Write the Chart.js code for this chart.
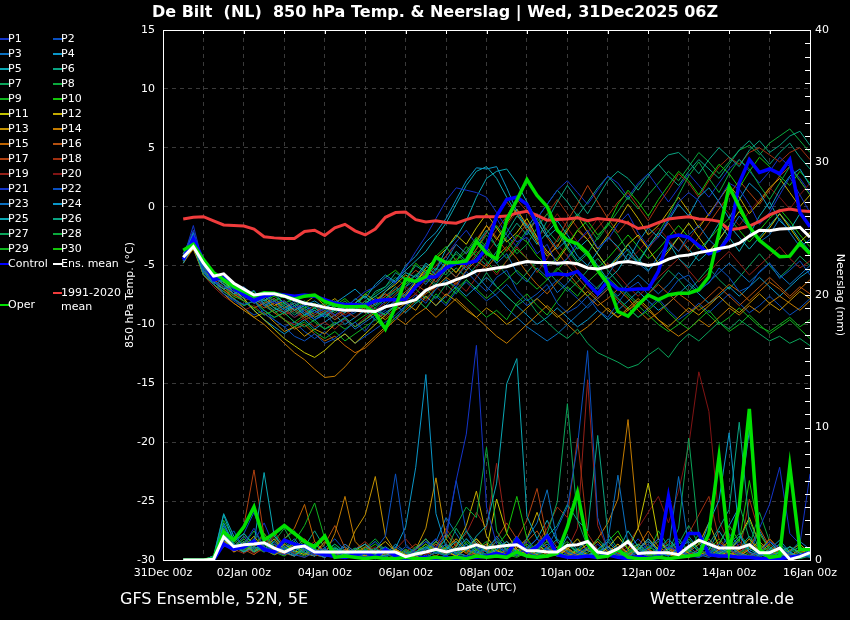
<!DOCTYPE html>
<html>
<head>
<meta charset="utf-8">
<script src="https://cdn.jsdelivr.net/npm/chart.js@4/dist/chart.umd.min.js"></script>
<style>
html,body{margin:0;padding:0;background:#000}
#wrap{position:relative;width:850px;height:620px;background:#000;overflow:hidden;font-family:"DejaVu Sans",sans-serif;color:#fff}
#c{position:absolute;left:0;top:0}
.txt{position:absolute;white-space:pre;line-height:14px}
.ln{position:absolute;height:2px}
</style>
</head>
<body>
<div id="wrap">
<canvas id="c" width="850" height="620"></canvas>
<div class="txt" style="left:0;width:870px;top:3px;text-align:center;font-weight:bold;font-size:16px;line-height:18px">De Bilt  (NL)  850 hPa Temp. &amp; Neerslag | Wed, 31Dec2025 06Z</div>
<div class="txt" style="left:120px;top:589px;font-size:16px;line-height:20px">GFS Ensemble, 52N, 5E</div>
<div class="txt" style="left:650px;top:589px;font-size:16px;line-height:20px">Wetterzentrale.de</div>
<div id="legend"></div>
</div>
<script>
// time axis: 31Dec 00z .. 16Jan 00z, 6-hourly; forecast values start at 31Dec 12z
const days=['31Dec','01Jan','02Jan','03Jan','04Jan','05Jan','06Jan','07Jan','08Jan','09Jan','10Jan','11Jan','12Jan','13Jan','14Jan','15Jan','16Jan']
const hours=['00z','06z','12z','18z']
const leadEmpty=2

// 850 hPa temperature (°C) per member
const p01T=[-4.2,-2.0,-5.2,-6.3,-6.8,-7.2,-7.0,-7.8,-7.5,-8.2,-8.0,-8.6,-8.3,-9.0,-8.7,-9.2,-8.5,-7.9,-7.2,-6.8,-6.0,-6.5,-5.2,-3.8,-2.5,-1.0,0.5,1.6,1.4,1.2,0.8,-0.5,-1.8,-3.0,-2.6,-4.0,-3.2,-5.0,-4.4,-3.0,-2.0,-3.5,-2.8,-1.5,-0.6,-2.2,-3.4,-2.6,-1.0,0.4,1.2,0.5,-0.8,0.6,2.0,1.5,0.2,-1.5,-0.5,1.0,2.5,1.0,-0.5]
const p02T=[-4.6,-3.0,-5.6,-6.2,-7.4,-7.9,-8.3,-8.0,-9.1,-9.6,-10.2,-11.0,-11.4,-10.8,-11.6,-11.2,-10.5,-9.8,-10.6,-9.4,-8.8,-9.6,-8.4,-7.5,-8.2,-7.0,-6.2,-6.8,-5.5,-6.4,-7.2,-6.0,-5.4,-7.1,-8.0,-7.4,-6.6,-8.2,-9.0,-8.5,-7.6,-8.8,-9.4,-8.2,-7.0,-6.4,-7.5,-8.1,-7.3,-6.2,-5.8,-7.0,-6.5,-5.2,-6.0,-7.2,-6.8,-5.5,-4.8,-6.1,-5.4,-4.6,-5.8]
const p03T=[-4.0,-2.6,-5.4,-6.6,-6.2,-7.0,-7.6,-7.1,-8.4,-8.0,-8.8,-8.2,-9.0,-9.6,-9.1,-10.0,-9.5,-10.4,-9.8,-9.2,-8.6,-8.0,-7.4,-6.2,-5.0,-5.8,-4.6,-3.2,-4.0,-2.8,-3.6,-4.8,-4.0,-5.6,-6.4,-5.2,-6.0,-7.3,-6.5,-5.4,-6.2,-7.0,-5.8,-4.5,-3.6,-4.8,-5.5,-4.2,-3.0,-3.8,-2.4,-1.6,-2.8,-3.6,-2.2,-0.8,-1.8,-3.0,-2.4,-1.0,-2.2,-3.4,-2.8]
const p04T=[-4.4,-2.2,-5.0,-5.8,-6.6,-7.4,-7.0,-7.6,-8.0,-7.4,-8.2,-8.8,-8.4,-8.0,-8.6,-8.2,-7.6,-7.0,-7.8,-6.6,-5.8,-6.4,-5.0,-4.2,-3.0,-2.2,-1.0,0.6,2.2,3.3,3.2,3.4,1.6,-0.4,-1.8,-0.6,-2.4,-3.6,-2.8,-4.2,-5.0,-3.8,-2.6,-3.4,-4.6,-3.0,-1.8,-2.6,-1.2,0.2,-0.8,0.8,1.6,0.4,-1.0,0.6,2.0,1.2,-0.2,1.4,2.6,3.2,1.8]
const p05T=[-4.8,-3.2,-5.6,-6.4,-7.0,-6.6,-7.5,-8.2,-7.8,-8.6,-9.0,-8.4,-9.2,-8.8,-9.4,-8.6,-9.0,-8.2,-7.6,-8.4,-7.2,-6.4,-5.6,-6.0,-4.8,-5.4,-3.6,-2.6,-1.2,0.8,2.4,3.0,3.2,2.0,0.4,-1.2,-2.6,-1.8,-3.4,-4.6,-3.8,-5.0,-6.2,-5.4,-4.0,-4.8,-3.4,-2.2,-3.0,-4.4,-5.2,-4.0,-2.8,-1.4,-2.6,-3.8,-2.4,-0.8,0.4,-1.2,-2.0,-0.6,-1.6]
const p06T=[-4.2,-2.4,-5.2,-6.0,-6.4,-7.2,-7.8,-7.4,-8.2,-8.8,-8.4,-9.2,-8.6,-9.4,-9.0,-8.4,-8.8,-7.8,-8.4,-7.2,-6.8,-5.6,-6.2,-5.0,-5.6,-4.4,-5.2,-3.8,-4.6,-3.2,-2.0,-3.4,-2.2,-0.8,-1.6,-2.8,-1.2,0.4,1.8,0.6,-0.6,0.8,2.2,3.0,2.4,1.4,2.6,3.6,4.4,4.6,3.8,2.8,4.0,5.0,4.2,3.4,4.8,5.6,4.6,5.2,6.0,6.4,5.2]
const p07T=[-4.6,-3.4,-5.8,-6.6,-7.2,-7.8,-8.4,-8.0,-8.8,-9.4,-9.0,-9.8,-10.2,-9.6,-10.4,-10.0,-9.4,-10.2,-9.6,-8.8,-9.2,-8.4,-7.6,-8.2,-7.0,-7.8,-6.6,-7.4,-6.2,-7.0,-5.6,-6.8,-7.6,-8.4,-7.8,-9.0,-9.8,-10.6,-11.2,-10.4,-11.6,-12.4,-12.8,-13.2,-13.7,-13.4,-12.6,-12.0,-12.8,-11.6,-10.8,-11.4,-10.6,-9.8,-10.4,-9.6,-10.2,-10.8,-11.4,-11.0,-11.6,-11.2,-11.8]
const p08T=[-4.0,-2.8,-5.0,-6.2,-6.0,-6.8,-7.2,-7.8,-7.4,-8.0,-7.6,-8.4,-8.0,-8.6,-8.2,-9.0,-8.4,-8.8,-8.0,-8.6,-7.8,-7.2,-6.6,-5.8,-6.4,-5.2,-5.8,-4.6,-3.4,-4.2,-3.0,-1.6,-2.8,-4.0,-3.2,-1.8,-0.6,-2.0,-3.6,-4.8,-4.0,-2.6,-1.4,-2.4,-3.8,-4.6,-3.4,-2.2,-0.8,1.0,2.6,3.8,2.4,1.2,2.8,4.0,3.2,1.8,0.6,2.0,3.4,2.2,1.0]
const p09T=[-4.4,-3.0,-5.4,-6.4,-6.8,-7.6,-8.0,-8.6,-9.2,-8.8,-9.6,-10.2,-9.8,-10.6,-11.2,-10.6,-11.4,-10.8,-10.2,-9.6,-10.4,-9.4,-8.6,-7.8,-8.6,-7.4,-8.2,-7.0,-7.8,-8.6,-9.4,-8.8,-9.6,-8.2,-7.4,-8.4,-9.2,-8.0,-6.8,-7.6,-6.4,-5.6,-6.8,-7.8,-8.6,-9.4,-8.8,-8.0,-9.0,-9.8,-10.4,-9.6,-8.8,-9.8,-10.6,-10.0,-9.2,-10.0,-10.8,-10.2,-9.6,-10.4,-11.2]
const p10T=[-4.2,-2.6,-5.2,-5.8,-6.6,-7.0,-7.6,-7.2,-8.0,-7.6,-8.2,-7.8,-8.6,-8.2,-8.8,-8.4,-7.8,-8.6,-7.4,-6.8,-6.0,-5.4,-6.2,-4.8,-5.6,-4.2,-3.4,-4.6,-3.8,-2.6,-3.4,-4.6,-3.6,-2.4,-3.0,-4.2,-5.0,-4.4,-3.2,-2.0,-1.2,-2.4,-1.6,0.2,1.4,0.4,-0.8,0.6,1.8,3.0,2.2,1.0,2.4,3.6,2.8,1.6,3.0,4.2,3.4,2.6,1.8,3.0,2.0]
const p11T=[-4.6,-3.6,-5.6,-6.0,-6.4,-7.0,-7.8,-8.8,-9.6,-10.4,-11.2,-11.8,-12.4,-12.8,-12.2,-11.4,-10.8,-11.6,-10.8,-10.0,-9.2,-8.4,-7.6,-6.4,-5.2,-4.4,-3.6,-2.4,-3.2,-1.8,-0.6,-1.8,-3.0,-2.2,-1.0,-2.6,-3.8,-4.6,-3.4,-2.0,-2.8,-4.0,-5.2,-4.4,-3.2,-2.4,-3.6,-4.8,-3.8,-2.6,-1.4,-2.6,-3.8,-2.8,-1.6,-0.4,-1.6,-2.8,-1.8,-0.6,-1.8,-3.0,-2.2]
const p12T=[-4.0,-2.4,-4.8,-6.0,-6.4,-7.0,-7.4,-8.0,-7.6,-8.4,-8.0,-8.8,-8.2,-7.6,-8.4,-7.8,-8.6,-8.2,-7.4,-8.0,-7.2,-6.6,-5.8,-6.4,-5.4,-6.0,-4.8,-5.6,-4.4,-3.0,-1.6,-2.8,-1.4,-0.2,-1.6,-3.0,-4.2,-3.4,-2.0,-0.8,-2.2,-3.6,-2.4,-1.2,0.2,-1.0,-2.4,-1.6,-0.4,0.8,-0.4,-1.8,-0.6,0.6,1.8,0.8,-0.6,0.4,1.6,2.4,1.2,0.0,1.0]
const p13T=[-4.8,-3.4,-5.8,-6.6,-7.4,-8.2,-8.8,-9.4,-9.0,-9.8,-10.6,-10.2,-11.0,-10.4,-10.8,-10.0,-9.4,-10.2,-9.6,-9.0,-9.6,-8.8,-8.2,-8.8,-7.6,-8.4,-7.4,-8.0,-8.8,-9.4,-8.6,-9.2,-10.0,-9.4,-8.6,-7.8,-8.6,-9.4,-8.8,-8.0,-7.2,-8.0,-8.8,-9.4,-8.6,-7.8,-8.6,-9.6,-10.2,-9.4,-8.6,-9.2,-8.4,-7.6,-8.4,-9.0,-8.2,-7.4,-8.2,-8.8,-8.0,-7.2,-7.8]
const p14T=[-4.4,-3.0,-5.4,-6.4,-7.0,-7.8,-8.6,-9.4,-10.0,-10.8,-11.6,-12.4,-13.0,-13.8,-14.5,-14.4,-13.6,-12.6,-11.8,-11.0,-10.2,-9.4,-10.0,-9.2,-8.6,-9.4,-8.6,-7.8,-8.6,-9.4,-10.2,-11.0,-11.6,-10.8,-10.0,-9.2,-8.4,-9.2,-10.0,-10.8,-10.2,-9.4,-8.6,-9.4,-8.8,-8.0,-8.8,-9.6,-10.4,-11.0,-10.4,-9.6,-10.2,-9.4,-8.6,-9.2,-8.4,-9.0,-8.2,-7.6,-8.2,-8.8,-8.0]
const p15T=[-4.2,-2.8,-5.0,-6.2,-6.8,-7.4,-8.0,-8.6,-8.2,-9.0,-9.6,-10.4,-10.0,-10.8,-11.4,-11.0,-11.8,-12.4,-12.0,-11.2,-10.4,-9.6,-8.8,-8.0,-7.4,-6.8,-6.0,-6.6,-5.4,-4.6,-5.2,-4.2,-3.4,-4.4,-5.6,-6.6,-7.4,-6.4,-5.6,-6.6,-7.6,-8.4,-7.8,-7.0,-7.8,-8.8,-9.6,-9.0,-8.2,-7.4,-8.0,-8.8,-8.2,-7.4,-6.6,-7.2,-8.0,-7.2,-6.4,-7.0,-7.8,-7.0,-6.2]
const p16T=[-4.6,-3.2,-5.6,-6.2,-7.0,-7.6,-7.2,-8.0,-8.6,-8.2,-9.0,-8.6,-9.4,-9.0,-8.4,-9.2,-8.8,-8.2,-8.8,-8.0,-7.4,-8.0,-7.2,-6.6,-7.2,-6.0,-5.2,-6.0,-4.8,-3.6,-2.2,-0.8,0.4,-0.6,-2.0,-1.2,-2.6,-3.8,-5.0,-6.0,-7.0,-7.8,-7.0,-8.0,-8.8,-8.2,-7.4,-6.6,-7.4,-8.2,-9.0,-8.4,-7.6,-6.8,-7.6,-8.4,-7.6,-6.8,-6.0,-6.8,-7.6,-6.8,-7.4]
const p17T=[-4.0,-2.6,-5.2,-6.0,-6.6,-7.2,-7.8,-7.4,-8.2,-7.8,-8.6,-8.2,-8.8,-9.4,-8.8,-9.6,-9.0,-8.4,-9.0,-8.2,-7.6,-7.0,-6.2,-5.4,-6.0,-5.0,-4.2,-3.2,-4.0,-2.8,-1.6,-2.6,-3.8,-2.6,-1.4,-2.8,-4.0,-2.8,-1.2,0.2,1.8,0.4,-1.0,-2.2,-1.2,-2.6,-3.6,-2.4,-1.4,-2.6,-3.8,-2.6,-1.4,-0.2,1.0,2.2,1.2,0.2,1.4,2.6,3.4,2.2,1.0]
const p18T=[-4.4,-3.0,-5.4,-6.6,-7.2,-7.8,-7.4,-8.2,-7.8,-8.6,-9.2,-8.8,-9.6,-9.2,-8.6,-9.4,-8.8,-9.4,-8.6,-8.0,-7.4,-8.2,-7.4,-6.8,-5.6,-6.4,-5.2,-4.4,-5.2,-4.0,-3.2,-2.0,-0.8,0.6,-0.4,-1.6,-0.6,0.6,-0.6,-1.8,-2.8,-1.8,-0.8,0.4,1.2,0.0,-1.2,0.2,1.4,2.8,2.0,0.8,2.2,3.4,4.2,3.6,4.6,5.0,4.4,3.8,4.6,5.0,4.0]
const p19T=[-4.8,-3.6,-5.8,-6.8,-7.6,-8.2,-8.8,-8.4,-9.2,-8.8,-9.6,-10.0,-9.4,-10.2,-9.8,-10.4,-9.6,-10.2,-9.4,-8.8,-9.4,-8.6,-8.0,-7.4,-8.0,-6.8,-7.6,-6.4,-7.2,-6.0,-4.8,-5.8,-4.6,-3.4,-4.4,-5.6,-4.4,-3.2,-4.2,-5.4,-6.4,-5.6,-4.8,-5.8,-6.8,-7.6,-6.8,-6.0,-5.2,-4.4,-5.4,-6.4,-5.6,-4.6,-3.8,-4.8,-5.8,-5.0,-4.2,-3.4,-4.4,-5.2,-4.6]
const p20T=[-4.2,-2.8,-5.2,-6.2,-6.8,-7.4,-8.0,-7.6,-8.4,-8.0,-8.8,-9.4,-9.0,-8.4,-9.2,-8.6,-9.2,-8.6,-8.0,-8.8,-8.2,-7.4,-6.8,-7.4,-6.2,-5.6,-4.8,-5.6,-4.4,-5.2,-4.0,-2.8,-1.6,-0.4,-1.4,-2.6,-1.8,-0.6,-1.8,-3.0,-2.2,-1.0,-2.4,-3.6,-4.6,-3.8,-2.8,-1.8,-2.8,-3.8,-2.8,-1.6,-0.6,0.4,-0.6,-1.6,-0.4,0.6,1.6,0.8,-0.2,1.0,2.0]
const p21T=[-4.4,-1.6,-5.0,-6.2,-6.8,-7.4,-7.0,-7.8,-8.4,-8.0,-8.8,-9.4,-8.8,-9.6,-9.2,-8.6,-9.4,-8.8,-8.2,-8.8,-8.0,-7.2,-6.4,-5.8,-6.6,-5.4,-4.2,-3.0,-2.0,-3.2,-2.2,-1.0,-2.4,-3.4,-2.2,-1.0,0.2,1.4,2.2,1.2,0.2,1.4,2.6,2.0,0.8,2.0,2.8,1.6,0.4,1.6,2.8,1.8,0.8,2.0,3.2,4.0,3.0,2.0,3.0,4.2,3.4,2.4,1.2]
const p22T=[-4.6,-3.2,-5.6,-6.6,-7.4,-8.0,-8.6,-9.2,-8.8,-9.6,-10.2,-9.8,-10.6,-11.2,-10.6,-11.4,-10.8,-11.6,-11.0,-10.4,-9.8,-9.2,-8.4,-7.8,-8.6,-7.6,-8.4,-7.2,-6.4,-7.2,-8.0,-7.4,-6.6,-7.6,-8.4,-7.8,-7.0,-6.2,-7.0,-7.8,-8.6,-7.8,-7.0,-7.8,-8.6,-9.4,-8.6,-7.8,-8.8,-9.6,-9.0,-8.2,-9.0,-8.2,-7.4,-8.2,-9.0,-8.4,-7.6,-8.4,-9.2,-8.6,-7.8]
const p23T=[-4.2,-2.4,-5.4,-6.0,-6.6,-7.2,-6.8,-7.6,-8.2,-7.8,-8.6,-8.0,-8.8,-8.4,-9.0,-8.6,-9.4,-9.0,-8.4,-7.8,-8.4,-7.6,-6.8,-6.2,-5.6,-6.4,-5.2,-6.0,-5.0,-5.8,-6.8,-7.6,-8.6,-9.4,-10.2,-10.8,-11.4,-10.8,-10.0,-9.2,-8.4,-7.6,-6.8,-7.6,-6.6,-5.8,-6.6,-7.4,-6.6,-5.6,-6.4,-7.2,-6.4,-5.6,-4.8,-5.6,-6.4,-5.6,-4.8,-5.8,-6.6,-5.8,-5.0]
const p24T=[-4.0,-2.6,-5.0,-5.8,-6.6,-7.2,-8.0,-8.8,-9.6,-10.2,-10.8,-10.2,-9.6,-10.4,-9.8,-9.2,-10.0,-9.4,-8.8,-9.6,-9.0,-8.4,-9.0,-8.2,-7.6,-8.4,-7.6,-6.8,-7.6,-6.8,-6.0,-6.8,-7.6,-8.4,-9.2,-10.0,-9.4,-8.6,-9.4,-10.2,-9.6,-8.8,-9.6,-8.8,-8.0,-7.2,-8.0,-8.8,-8.2,-7.4,-6.6,-7.4,-8.2,-7.6,-6.8,-7.6,-6.8,-6.0,-6.8,-7.6,-6.8,-6.0,-5.4]
const p25T=[-4.6,-2.8,-5.6,-6.4,-7.0,-6.4,-7.2,-7.8,-8.4,-8.0,-8.8,-8.4,-9.2,-8.6,-9.2,-8.8,-8.2,-8.8,-8.2,-7.6,-7.0,-6.2,-5.4,-4.6,-3.8,-2.6,-1.4,0.2,1.8,3.0,3.4,2.4,0.8,-0.6,-2.0,-3.2,-2.2,-1.2,-2.4,-3.6,-2.8,-4.0,-5.2,-4.2,-3.2,-4.4,-5.4,-4.6,-3.6,-2.6,-3.6,-4.6,-3.8,-2.8,-1.6,-2.6,-3.6,-2.6,-1.6,-0.6,-1.6,-2.8,-3.8]
const p26T=[-4.2,-2.6,-5.2,-6.2,-6.8,-7.4,-8.0,-7.6,-8.4,-9.0,-8.6,-9.4,-8.8,-9.6,-9.0,-9.6,-9.0,-8.4,-9.0,-8.2,-7.6,-6.8,-7.6,-6.4,-5.8,-6.6,-5.4,-4.6,-5.4,-4.2,-5.0,-3.8,-2.6,-1.4,-2.4,-1.0,0.2,1.4,0.4,-0.8,0.4,1.6,2.6,1.6,0.6,1.8,2.8,3.6,2.6,1.8,3.0,4.0,3.2,2.4,3.6,4.8,5.6,4.6,3.6,4.6,5.4,4.2,3.2]
const p27T=[-4.4,-3.0,-5.4,-6.0,-6.6,-7.4,-7.0,-7.8,-8.4,-7.8,-8.4,-9.0,-8.4,-9.2,-8.6,-8.0,-8.8,-8.2,-7.6,-8.4,-7.8,-7.0,-7.8,-6.8,-6.0,-6.8,-6.0,-5.2,-6.0,-5.0,-4.0,-4.8,-5.8,-6.6,-5.6,-4.6,-5.4,-6.4,-7.2,-6.4,-5.4,-4.4,-5.4,-6.4,-7.4,-8.2,-7.4,-6.4,-5.4,-6.2,-7.2,-6.2,-5.2,-6.2,-7.0,-6.0,-5.0,-4.0,-5.0,-6.0,-5.2,-4.2,-5.0]
const p28T=[-4.0,-2.2,-5.0,-5.8,-6.4,-7.0,-7.6,-7.2,-8.0,-8.6,-8.2,-8.8,-9.4,-8.8,-9.4,-8.8,-8.2,-8.8,-8.0,-7.4,-6.8,-6.0,-6.8,-5.8,-5.0,-5.8,-4.8,-4.0,-4.8,-3.6,-2.4,-3.4,-4.4,-3.2,-2.0,-1.0,-2.0,-3.0,-1.8,-0.6,-1.6,-2.8,-1.6,-0.4,0.8,-0.2,1.0,2.0,3.0,2.2,3.4,4.6,3.8,2.8,3.8,4.8,5.2,4.4,5.4,6.0,6.6,5.6,4.6]
const p29T=[-4.6,-3.4,-5.8,-6.6,-7.2,-7.8,-8.4,-8.0,-8.8,-9.4,-9.0,-9.8,-9.2,-9.8,-10.4,-9.8,-10.4,-9.8,-9.2,-8.6,-9.2,-8.4,-7.8,-7.0,-7.8,-7.0,-6.2,-7.0,-6.2,-7.0,-7.8,-7.0,-6.2,-5.4,-6.2,-7.0,-6.2,-5.2,-6.0,-6.8,-7.6,-6.8,-6.0,-6.8,-7.6,-8.4,-9.2,-10.0,-10.6,-10.0,-9.2,-8.4,-9.2,-10.0,-9.4,-8.6,-9.4,-10.2,-10.6,-10.0,-9.4,-10.2,-9.6]
const p30T=[-4.2,-2.8,-5.2,-6.2,-6.8,-7.4,-7.0,-7.8,-8.4,-8.0,-8.6,-8.2,-9.0,-8.6,-9.2,-8.6,-8.0,-8.8,-8.2,-7.6,-8.2,-7.4,-6.6,-5.8,-6.6,-5.6,-4.8,-5.6,-4.6,-3.8,-4.6,-5.6,-4.6,-3.6,-4.4,-5.4,-6.2,-5.4,-4.4,-3.4,-4.2,-5.2,-4.4,-3.4,-2.4,-3.4,-4.4,-3.6,-2.6,-1.6,-2.6,-3.6,-2.8,-1.8,-1.0,-2.0,-3.0,-2.0,-1.0,-0.2,-1.2,-2.4,-3.4]

const controlT=[-4.5,-2.7,-4.6,-6.2,-6.0,-6.9,-7.5,-8.0,-7.6,-7.4,-7.5,-7.6,-7.5,-7.6,-7.9,-8.2,-8.3,-8.3,-8.4,-8.0,-7.9,-7.9,-7.85,-6.8,-6.0,-5.95,-5.2,-4.8,-4.8,-4.6,-3.5,-0.8,0.6,0.8,0.2,-1.5,-5.8,-5.7,-5.8,-5.5,-6.5,-7.4,-6.3,-7.0,-7.05,-7.0,-7.0,-5.5,-2.6,-2.4,-2.6,-3.3,-4.0,-3.7,-2.6,2.0,4.0,2.9,3.2,2.8,4.0,-0.5,-1.7]
const operT=[-3.7,-3.2,-4.5,-5.6,-6.2,-6.8,-7.2,-7.6,-7.3,-7.35,-7.6,-7.85,-7.6,-7.5,-8.05,-8.35,-8.5,-8.5,-8.45,-9.05,-10.4,-8.5,-6.15,-6.35,-5.95,-4.3,-4.75,-4.75,-4.6,-2.95,-3.95,-4.45,-1.1,0.55,2.3,0.95,0.0,-2.0,-2.85,-3.15,-3.95,-5.4,-6.5,-8.9,-9.3,-8.35,-7.5,-7.9,-7.5,-7.35,-7.35,-7.05,-5.95,-2.25,1.7,0.0,-1.7,-2.85,-3.55,-4.25,-4.2,-3.1,-4.0]
const meanT=[-4.3,-3.4,-4.8,-5.9,-5.7,-6.5,-7.0,-7.5,-7.4,-7.4,-7.6,-7.9,-8.2,-8.35,-8.55,-8.7,-8.8,-8.8,-8.85,-8.9,-8.5,-8.3,-8.15,-7.9,-7.1,-6.7,-6.55,-6.2,-5.9,-5.45,-5.35,-5.2,-5.1,-4.85,-4.65,-4.75,-4.75,-4.8,-4.75,-4.85,-5.2,-5.3,-5.1,-4.75,-4.65,-4.8,-5.0,-4.85,-4.45,-4.2,-4.1,-3.9,-3.75,-3.55,-3.4,-3.1,-2.5,-2.0,-2.05,-1.9,-1.85,-1.75,-2.6]
const climT=[-1.05,-0.9,-0.85,-1.2,-1.55,-1.6,-1.65,-1.9,-2.55,-2.65,-2.7,-2.7,-2.1,-2.0,-2.45,-1.8,-1.5,-2.05,-2.4,-1.9,-0.9,-0.5,-0.45,-1.1,-1.3,-1.2,-1.35,-1.4,-1.1,-0.85,-0.85,-0.85,-0.8,-0.55,-0.4,-0.75,-1.15,-1.1,-1.05,-0.95,-1.2,-1.0,-1.1,-1.15,-1.4,-1.85,-1.7,-1.35,-1.05,-0.95,-0.85,-1.05,-1.1,-1.25,-1.95,-1.85,-1.65,-1.25,-0.7,-0.35,-0.2,-0.35,-0.4]

// 6-hourly precipitation (mm) per member
const p01R=[0,0,0,0.2,1.8,0.9,1.2,2.4,1.0,0.6,0.4,0.8,1.2,0.5,0.3,0.2,0.6,0.4,0.2,0.1,0.3,0.5,0.2,0.8,1.4,0.9,2.0,6.0,9.5,16.2,4.0,1.2,0.6,0.4,0.9,1.6,0.8,0.3,0.2,0.5,1.0,0.6,0.3,0.8,1.4,0.6,0.2,0.4,1.0,0.7,0.3,0.2,0.6,1.2,0.8,0.4,0.2,0.6,1.4,0.9,0.4,0.2,0.5]
const p02R=[0,0,0,0.1,1.4,2.2,0.8,1.6,0.6,1.2,0.8,0.4,0.2,0.6,0.9,0.3,0.1,0.4,0.2,0.8,1.8,6.5,1.2,0.4,0.2,0.6,0.3,0.8,1.6,0.9,0.4,0.2,0.7,1.4,0.6,0.3,0.9,2.4,4.0,8.6,15.8,3.2,0.8,0.4,0.2,0.6,1.2,0.5,0.3,0.8,0.4,0.2,0.5,0.9,0.4,0.2,0.1,0.3,0.6,0.2,0.1,0.4,0.2]
const p03R=[0,0,0,0.3,2.0,1.0,1.8,0.8,1.4,0.5,0.9,1.6,0.6,0.3,0.8,0.4,1.2,0.6,0.2,0.4,0.8,0.3,0.1,0.4,0.9,0.5,1.2,0.6,0.3,1.0,0.6,1.8,0.8,0.4,1.6,2.8,5.3,1.4,0.6,0.3,0.8,0.4,1.4,6.4,1.2,0.5,0.9,1.6,0.8,6.3,1.0,0.4,0.2,0.6,1.2,0.5,0.3,0.8,0.4,0.2,0.6,1.4,0.8]
const p04R=[0,0,0,0.2,2.6,1.2,0.6,1.0,0.8,1.4,0.6,0.3,0.9,0.5,0.2,0.6,0.3,0.8,1.2,0.5,0.3,0.9,2.5,7.0,14.0,3.5,1.0,0.5,1.2,0.6,0.3,0.8,1.4,0.6,0.2,0.5,0.9,0.4,1.8,0.7,0.3,0.6,1.0,0.4,0.2,0.8,1.6,0.6,0.3,0.9,1.4,0.6,2.8,4.5,9.6,2.0,0.6,0.3,0.8,1.5,0.6,0.2,0.4]
const p05R=[0,0,0,0.2,3.4,1.4,2.0,1.2,6.6,1.8,1.0,0.6,1.2,0.8,0.4,0.9,0.5,0.2,0.6,0.3,0.8,0.4,0.2,0.6,1.0,0.5,0.8,1.4,0.7,1.8,2.6,5.8,13.3,15.2,3.3,1.6,0.8,0.4,1.2,0.6,0.3,0.8,1.4,0.6,2.2,1.0,0.4,0.8,1.6,0.7,0.3,0.6,1.2,0.5,0.9,1.8,0.8,0.4,0.2,0.6,1.0,0.5,0.3]
const p06R=[0,0,0,0.1,1.6,0.8,1.4,0.6,1.0,2.0,0.8,0.4,0.7,1.2,0.5,0.2,0.6,0.3,0.1,0.4,0.2,0.6,0.3,0.9,1.6,0.7,0.4,1.0,2.2,1.2,0.6,1.4,0.8,0.4,1.0,0.6,1.8,2.6,4.2,3.0,2.2,9.4,2.0,0.8,0.4,1.2,0.6,0.3,0.8,1.6,0.7,0.4,1.2,2.4,3.8,10.4,2.6,0.8,0.4,1.0,0.5,0.3,0.8]
const p07R=[0,0,0,0.2,2.2,1.0,0.6,1.4,0.9,0.4,1.6,2.2,0.8,0.5,0.3,0.8,0.4,0.2,0.5,0.9,0.4,0.2,0.6,0.3,0.8,1.4,0.6,2.4,1.2,0.5,0.9,1.6,0.7,0.3,0.6,1.2,2.0,4.4,11.8,3.0,1.0,0.5,0.3,0.8,1.4,0.6,0.3,0.2,0.6,2.4,9.2,1.8,0.6,0.3,0.8,0.4,0.2,0.5,1.0,0.4,0.2,0.1,0.3]
const p08R=[0,0,0,0.3,1.8,1.2,2.0,1.0,0.6,1.4,2.4,1.0,0.5,0.9,0.4,1.2,0.6,0.3,0.8,0.4,0.2,0.6,0.3,0.5,1.0,0.6,1.6,2.6,4.0,3.2,8.5,2.2,1.0,0.6,0.3,0.8,1.4,0.6,0.3,0.9,0.5,1.6,0.8,0.3,0.6,1.2,0.5,0.3,0.8,1.4,0.6,2.0,1.0,0.4,0.8,1.6,3.0,1.2,0.5,0.3,0.8,0.4,0.2]
const p09R=[0,0,0,0.2,3.0,1.6,0.8,1.2,2.0,1.0,0.6,1.4,2.6,4.3,1.6,0.7,0.4,0.9,0.5,0.2,0.6,0.3,0.8,0.4,0.2,0.6,1.0,0.5,0.3,0.8,1.4,0.6,0.3,0.7,1.2,0.5,0.2,0.6,0.3,0.1,0.4,0.8,0.4,0.2,0.5,0.9,0.4,0.2,0.6,0.3,0.8,1.4,0.6,0.3,0.2,0.5,1.0,0.4,0.2,0.6,0.3,0.1,0.4]
const p10R=[0,0,0,0.1,2.4,1.0,1.6,0.8,1.2,0.6,0.9,0.4,1.0,0.6,0.3,0.8,0.4,0.2,0.6,0.3,0.9,0.5,0.2,0.6,1.2,0.6,0.3,0.8,1.6,0.8,0.4,1.0,2.0,4.8,1.6,0.6,0.3,0.8,1.2,0.5,0.3,0.6,1.4,2.2,0.8,0.4,1.0,0.6,0.3,0.8,1.6,0.7,0.4,1.2,2.6,1.4,6.0,2.0,0.8,0.4,1.0,0.6,0.3]
const p11R=[0,0,0,0.2,1.2,0.8,1.4,0.6,1.0,0.5,1.2,0.7,0.4,0.9,1.6,0.6,0.3,0.7,1.2,0.5,0.3,0.8,0.4,0.2,0.6,1.4,0.7,0.3,0.8,1.6,0.8,4.6,2.0,0.8,0.4,1.2,0.6,0.3,0.8,1.6,0.7,0.4,0.9,1.8,0.8,2.4,5.8,1.6,0.6,0.3,0.8,1.4,0.6,0.3,0.7,1.6,3.2,1.2,0.5,0.9,0.4,0.2,0.6]
const p12R=[0,0,0,0.1,1.6,0.6,1.0,1.8,0.8,0.4,0.7,1.2,0.5,0.3,0.8,0.5,0.2,0.6,0.3,0.8,1.4,0.6,0.3,0.8,1.6,0.7,0.4,1.0,2.6,5.2,1.8,0.7,0.4,0.9,1.6,3.6,1.4,0.6,0.3,0.8,0.4,0.2,0.6,1.2,0.5,0.8,1.6,0.8,0.4,0.2,0.6,1.2,2.8,1.0,0.5,0.3,0.8,1.4,0.6,0.3,0.7,1.2,0.5]
const p13R=[0,0,0,0.2,2.0,1.0,0.6,1.2,0.8,1.6,0.6,0.3,0.9,0.5,1.4,0.7,0.3,2.2,3.4,6.3,1.8,0.6,0.3,0.8,2.4,6.2,1.6,0.6,0.3,0.8,1.2,0.5,0.2,0.6,1.0,0.4,0.2,0.5,0.9,0.4,0.8,1.4,0.6,0.3,0.7,1.2,0.5,0.3,0.8,0.4,0.2,0.6,1.2,0.5,0.3,0.8,1.6,0.7,0.3,0.6,0.3,0.8,0.4]
const p14R=[0,0,0,0.1,1.4,0.8,1.2,0.6,1.4,0.7,0.4,0.9,1.6,0.8,0.4,2.0,4.8,1.4,0.6,0.3,0.8,0.4,0.2,0.6,1.2,0.5,0.9,1.6,0.8,0.4,0.2,0.6,1.4,0.7,0.3,0.8,0.4,1.0,0.5,0.3,0.8,1.6,2.8,4.6,10.6,2.4,0.8,0.4,0.9,0.5,0.2,0.6,0.3,0.8,1.4,0.6,0.3,0.7,1.6,0.8,0.4,0.2,0.6]
const p15R=[0,0,0,0.3,1.8,1.2,0.6,1.0,2.0,0.9,1.6,2.4,4.2,1.4,0.6,0.3,0.8,0.4,1.0,0.5,0.3,0.8,0.4,0.6,1.2,0.6,2.0,1.0,0.5,1.4,0.7,0.3,0.8,1.6,0.7,0.4,0.9,0.5,0.2,0.6,1.2,0.6,0.3,0.8,0.4,1.0,2.2,1.0,0.5,0.3,0.7,1.4,0.6,0.3,0.8,0.4,0.2,0.6,1.2,0.5,0.3,0.8,0.4]
const p16R=[0,0,0,0.2,1.0,1.6,0.8,0.4,1.0,1.8,0.8,0.4,0.9,0.5,1.2,2.6,0.9,0.4,0.2,0.6,0.3,0.8,0.4,0.2,0.6,1.2,0.6,0.3,0.8,1.6,0.8,0.4,0.2,0.6,1.4,2.2,0.9,0.4,0.8,0.4,0.2,0.6,1.0,0.5,0.3,0.8,1.6,0.8,0.4,1.0,0.5,0.2,0.6,1.4,0.7,0.4,0.9,2.4,1.0,0.5,0.3,0.7,0.4]
const p17R=[0,0,0,0.2,2.2,1.4,2.6,6.8,1.8,0.8,0.4,1.0,0.6,0.3,0.8,0.4,1.2,0.6,0.3,0.7,0.4,0.2,0.6,1.2,0.6,0.3,0.8,1.4,0.7,0.4,0.9,1.6,2.8,1.6,3.0,5.4,1.6,0.6,0.3,0.8,0.4,0.2,0.6,1.2,0.5,0.3,0.8,0.4,1.0,0.6,0.3,0.8,1.6,0.7,0.3,0.6,1.2,0.5,0.3,0.8,0.4,0.2,0.5]
const p18R=[0,0,0,0.1,1.6,1.0,1.8,0.8,1.2,2.2,1.0,0.5,0.9,0.4,0.2,0.6,0.3,0.8,1.4,0.6,0.3,0.7,0.4,0.2,0.6,1.0,2.4,1.2,0.5,0.3,0.8,1.4,0.7,0.3,0.6,1.2,2.4,4.0,3.2,9.2,2.0,0.8,0.4,1.0,0.5,0.3,0.8,1.6,0.8,0.4,2.0,3.4,4.8,1.6,0.7,0.4,4.6,2.0,0.8,0.4,1.0,0.5,0.3]
const p19R=[0,0,0,0.2,1.4,0.8,0.5,1.0,0.6,1.2,0.5,0.3,0.8,1.4,0.6,0.3,0.7,0.4,0.2,0.6,0.3,0.8,1.6,0.7,0.4,0.9,0.5,1.2,2.0,3.6,2.4,7.3,2.0,0.8,0.4,1.0,0.6,0.3,0.8,2.4,13.6,2.6,0.8,0.4,1.0,0.6,0.3,0.8,1.4,0.7,0.4,0.8,0.4,0.2,0.6,1.2,0.5,0.3,0.8,0.4,0.2,0.6,0.3]
const p20R=[0,0,0,0.1,1.2,0.6,1.0,0.5,0.8,0.4,0.9,0.5,0.2,0.6,0.3,0.8,0.4,0.2,0.6,1.0,0.5,0.3,0.8,0.4,0.2,0.6,1.2,0.6,0.3,0.8,0.4,0.2,0.6,1.0,0.5,0.3,0.7,1.4,0.6,0.3,0.8,0.4,0.2,0.6,1.2,2.4,3.6,4.8,2.8,5.2,8.6,14.2,11.2,3.0,1.2,0.6,0.3,0.8,1.6,0.7,0.4,0.2,0.6]
const p21R=[0,0,0,0.2,1.8,1.2,0.8,1.4,2.8,1.0,0.6,1.2,0.5,0.8,0.4,0.2,0.6,0.3,0.8,1.4,0.6,0.3,0.8,0.4,0.9,1.6,0.8,0.4,0.2,0.6,1.2,0.6,0.3,0.7,1.4,0.6,0.3,0.8,0.4,0.2,0.6,1.2,0.5,0.3,0.8,1.6,0.7,0.4,1.0,0.5,0.3,0.8,1.4,0.6,2.0,1.0,0.5,2.4,4.2,7.0,2.0,1.2,6.5]
const p22R=[0,0,0,0.1,2.2,1.4,2.0,3.6,1.4,0.6,1.0,0.5,0.8,0.4,0.9,1.6,0.7,0.3,0.6,0.3,0.8,0.4,1.0,0.6,0.3,0.8,1.6,6.0,2.2,0.8,0.4,1.0,0.5,0.3,0.8,0.4,0.2,0.6,1.2,0.6,0.3,0.8,1.6,0.7,0.4,0.9,0.5,0.3,0.8,1.4,0.6,0.3,0.7,0.4,0.2,0.6,1.0,0.5,0.3,0.8,0.4,0.2,0.5]
const p23R=[0,0,0,0.3,1.4,0.9,1.6,0.7,1.0,0.5,0.8,1.4,0.6,0.3,0.7,1.2,0.5,0.9,0.4,0.2,0.6,1.0,0.5,0.3,0.8,1.4,3.2,2.0,0.8,0.4,1.0,0.6,0.3,0.8,0.4,1.2,2.0,0.9,0.4,0.8,1.4,0.6,0.3,0.7,1.2,0.5,0.9,1.6,0.8,0.4,0.2,0.6,1.0,0.5,0.8,1.4,0.6,0.3,0.7,1.2,0.6,0.3,0.8]
const p24R=[0,0,0,0.2,2.8,1.2,0.8,1.6,0.7,1.2,0.6,0.3,0.8,0.4,0.2,0.6,1.0,0.5,0.3,0.8,0.4,1.2,0.6,0.3,0.8,1.6,0.8,0.4,0.9,0.5,0.3,0.8,1.4,0.6,0.3,0.7,1.2,0.5,0.9,0.4,0.2,0.6,1.0,0.5,0.3,0.8,1.4,0.7,0.4,0.9,1.8,0.8,0.4,1.2,2.6,4.0,9.8,2.2,0.8,0.4,1.0,0.6,0.3]
const p25R=[0,0,0,0.3,3.5,1.8,1.0,0.6,1.2,0.8,0.4,0.9,0.5,1.2,0.6,0.3,0.8,0.4,0.2,0.6,1.0,0.5,0.3,0.8,1.4,0.6,0.3,0.8,1.6,0.7,0.4,1.0,0.6,0.3,0.8,1.6,3.0,1.4,0.6,0.3,0.8,0.4,1.0,0.6,0.3,0.8,1.6,0.8,0.4,1.0,0.5,0.3,0.8,2.2,1.0,0.5,0.3,0.8,1.4,0.6,0.3,0.8,0.4]
const p26R=[0,0,0,0.1,1.6,0.8,1.2,0.6,1.0,1.6,0.8,0.4,1.0,2.2,0.9,0.4,0.8,0.4,0.2,0.6,0.3,0.8,0.4,0.2,0.6,1.2,0.6,0.3,0.8,1.4,0.6,0.3,0.7,1.2,0.6,0.3,0.8,1.6,0.7,0.4,0.9,0.5,0.3,0.8,1.4,0.6,0.3,0.7,1.2,0.5,0.3,0.8,1.6,0.8,0.4,0.9,1.8,0.8,0.4,0.2,0.6,1.0,0.5]
const p27R=[0,0,0,0.2,2.0,1.2,0.7,1.0,1.8,0.8,1.4,0.6,0.3,0.8,0.4,1.0,0.5,0.3,0.8,1.4,0.6,0.3,0.7,0.4,0.2,0.6,1.2,0.5,0.9,1.6,0.7,0.4,0.9,1.8,0.8,0.4,1.0,0.5,0.3,0.8,1.6,0.7,0.4,1.0,0.5,0.3,0.8,1.4,0.6,1.2,2.6,1.2,0.6,0.3,0.8,4.2,1.6,0.6,0.3,0.8,0.4,0.2,0.6]
const p28R=[0,0,0,0.2,1.4,0.7,1.2,2.2,1.0,0.5,0.9,0.4,0.7,1.2,0.6,0.3,0.8,0.4,0.9,1.6,0.7,0.4,0.2,0.6,1.0,0.5,0.8,1.4,0.6,0.3,0.8,0.4,1.2,0.6,0.3,0.8,1.4,0.6,0.3,0.7,1.2,0.6,0.3,0.8,1.6,0.8,0.4,1.0,0.5,0.3,0.8,1.6,0.8,0.4,1.2,2.0,1.0,3.6,1.4,0.6,0.3,0.8,0.4]
const p29R=[0,0,0,0.1,2.4,1.0,0.6,1.4,0.8,0.4,0.8,1.4,0.6,0.3,0.7,0.4,0.2,0.6,1.0,0.5,0.3,0.8,0.4,1.0,0.6,0.3,0.8,1.6,0.8,0.4,0.9,0.5,0.3,0.7,1.2,0.6,0.3,0.8,1.4,0.6,0.3,0.8,0.4,0.2,0.6,1.0,0.5,2.2,1.0,0.5,0.3,0.8,1.4,0.6,0.3,0.8,0.4,0.2,0.6,1.2,0.5,0.3,0.7]
const p30R=[0,0,0,0.2,1.8,0.9,1.4,0.7,1.2,0.6,0.3,0.8,1.4,0.7,0.4,0.9,0.5,0.3,0.7,1.2,0.6,0.3,0.8,0.4,0.2,0.6,1.0,0.5,1.4,0.7,0.4,0.8,0.4,0.2,0.6,1.2,0.6,0.3,0.8,0.4,1.0,0.5,0.3,0.8,1.4,0.6,0.3,0.7,0.4,1.0,0.5,0.3,0.8,1.6,0.8,0.4,0.2,0.6,1.0,0.5,0.3,0.8,0.4]

const controlR=[0,0,0,0,1.2,0.8,1.0,1.4,0.8,0.6,1.5,1.2,1.0,0.6,0.4,0.3,0.2,0.4,0.6,0.2,0.8,0.3,0.1,0.1,0.2,0.1,0.2,0.1,0.2,0.2,0.3,0.5,0.3,1.6,0.6,1.0,1.8,0.4,0.2,0.2,0.3,0.2,0.4,0.2,0.1,0.3,0.1,0.2,4.8,0.6,2.0,2.0,0.4,0.3,0.3,0.2,0.2,0.1,0.1,0.1,0.2,0.3,0.6]
const operR=[0,0,0,0.1,2.1,1.5,2.5,4.0,1.5,2.0,2.6,2.0,1.4,1.0,1.8,0.2,0.3,0.2,0.1,0.2,0.1,0.1,0.2,0.1,0.1,0.2,0.1,0.2,0.1,0.3,0.2,0.3,0.2,0.6,0.3,0.2,0.3,0.5,2.5,5.1,1.2,0.2,0.3,0.8,0.2,0.1,0.1,0.2,0.1,0.2,0.3,0.4,2.0,7.8,0.7,4.0,11.4,0.8,0.2,0.3,7.1,0.8,0.8]
const meanR=[0,0,0,0.05,1.75,1.0,1.15,1.2,1.3,0.9,0.6,0.95,1.05,0.6,0.6,0.6,0.6,0.6,0.6,0.6,0.6,0.6,0.25,0.45,0.6,0.8,0.6,0.8,0.9,1.15,0.9,1.0,1.1,1.15,0.7,0.7,0.6,0.6,1.1,1.15,1.4,0.6,0.5,0.85,1.4,0.5,0.55,0.55,0.55,0.4,1.0,1.5,1.2,0.9,0.9,0.9,1.15,0.55,0.55,0.9,0.05,0.25,0.55]

const memberTemp=[p01T,p02T,p03T,p04T,p05T,p06T,p07T,p08T,p09T,p10T,p11T,p12T,p13T,p14T,p15T,p16T,p17T,p18T,p19T,p20T,p21T,p22T,p23T,p24T,p25T,p26T,p27T,p28T,p29T,p30T]
const memberRain=[p01R,p02R,p03R,p04R,p05R,p06R,p07R,p08R,p09R,p10R,p11R,p12R,p13R,p14R,p15R,p16R,p17R,p18R,p19R,p20R,p21R,p22R,p23R,p24R,p25R,p26R,p27R,p28R,p29R,p30R]

// member colours cycle every 20
const palette=['#1434c8','#0a50c0','#0a70c0','#0a96c8','#0aa8b4','#0aa482','#0aa45a','#0aa83c','#10b41e','#14c40a','#c4c400','#c4aa00','#c49200','#c47c00','#c06400','#b45010','#b04010','#a03010','#962018','#801414']

// time steps
const steps=[]
days.forEach((d,k)=>{
hours.forEach(h=>{
if(k<days.length-1||h==='00z') steps.push(d+' '+h)
})
})
const nVals=steps.length-leadEmpty

const all={controlT,operT,meanT,climT,controlR,operR,meanR}
memberTemp.forEach((a,i)=>all['P'+(i+1)+'T']=a)
memberRain.forEach((a,i)=>all['P'+(i+1)+'R']=a)
Object.keys(all).forEach(k=>{
if(all[k].length!==nVals) throw new Error(k+' has '+all[k].length+' values, expected '+nVals)
})

const pad=a=>Array(leadEmpty).fill(null).concat(a)

const datasets=[]

datasets.push({label:'Ens. mean',data:pad(meanT),yAxisID:'y',borderColor:'#ffffff',borderWidth:3,order:0})
datasets.push({label:'Ens. mean rain',data:pad(meanR),yAxisID:'yP',borderColor:'#ffffff',borderWidth:3,order:0})
datasets.push({label:'Oper',data:pad(operT),yAxisID:'y',borderColor:'#00e000',borderWidth:3.5,order:1})
datasets.push({label:'Oper rain',data:pad(operR),yAxisID:'yP',borderColor:'#00e000',borderWidth:3.5,order:1})
datasets.push({label:'Control',data:pad(controlT),yAxisID:'y',borderColor:'#0000ff',borderWidth:3.5,order:2})
datasets.push({label:'Control rain',data:pad(controlR),yAxisID:'yP',borderColor:'#0000ff',borderWidth:3.5,order:2})
datasets.push({label:'1991-2020 mean',data:pad(climT),yAxisID:'y',borderColor:'#f03c3c',borderWidth:3,order:3})

memberTemp.forEach((t,i)=>{
const col=palette[i%20]
datasets.push({label:'P'+(i+1),data:pad(t),yAxisID:'y',borderColor:col,borderWidth:1,order:4})
datasets.push({label:'P'+(i+1)+' rain',data:pad(memberRain[i]),yAxisID:'yP',borderColor:col,borderWidth:1,order:4})
})

// white frame, day ticks on top, mm ticks on right
const frame={
id:'frame',
afterDraw(c){
const {ctx,chartArea:a,scales:s}=c
ctx.save()
ctx.strokeStyle='#ffffff'
ctx.lineWidth=1
ctx.beginPath()
ctx.rect(Math.round(a.left)+0.5,Math.round(a.top)+0.5,Math.round(a.right-a.left),Math.round(a.bottom-a.top))
for(let v=s.yP.min+1;v<s.yP.max;v++){
const y=Math.round(s.yP.getPixelForValue(v))+0.5
ctx.moveTo(a.right-5,y)
ctx.lineTo(a.right,y)
}
for(let i=hours.length;i<steps.length-1;i+=hours.length){
const x=Math.round(s.x.getPixelForValue(i))+0.5
ctx.moveTo(x,a.top)
ctx.lineTo(x,a.top+4)
}
ctx.stroke()
ctx.restore()
}
}

const font={family:'"DejaVu Sans", sans-serif',size:11}
const gridCol='#3a3a3a'

new Chart(document.getElementById('c'),{
type:'line',
data:{labels:steps,datasets},
options:{
responsive:false,
animation:false,
devicePixelRatio:1,
events:[],
layout:{padding:{left:120,top:30,right:0,bottom:25}},
elements:{point:{radius:0},line:{tension:0}},
plugins:{legend:{display:false},tooltip:{enabled:false}},
scales:{
x:{
grid:{color:c=>c.index%hours.length===0?gridCol:'rgba(0,0,0,0)',drawTicks:false},
border:{color:'#ffffff',dash:[4,4]},
ticks:{color:'#ffffff',font,autoSkip:false,maxRotation:0,minRotation:0,padding:7,
callback:(v,i)=>i%(hours.length*2)===0?steps[i]:''},
title:{display:true,text:'Date (UTC)',color:'#ffffff',font,padding:{top:0,bottom:0}},
afterFit:s=>{s.height=35}
},
y:{
position:'left',min:-30,max:15,
grid:{color:gridCol,drawTicks:false},
border:{color:'#ffffff',dash:[4,4]},
ticks:{stepSize:5,color:'#ffffff',font,padding:8},
title:{display:true,text:'850 hPa Temp. (°C)',color:'#ffffff',font,padding:{top:4,bottom:0}},
afterFit:s=>{s.width=43}
},
yP:{
position:'right',min:0,max:40,
grid:{display:false,drawTicks:false},
border:{color:'#ffffff'},
ticks:{stepSize:10,color:'#ffffff',font,padding:5},
title:{display:true,text:'Neerslag (mm)',color:'#ffffff',font,padding:{top:4,bottom:0}},
afterFit:s=>{s.width=40}
}
}
},
plugins:[frame]
})

// legend
const legend=document.getElementById('legend')
function entry(text,col,left,y){
const l=document.createElement('div')
l.className='ln'
l.style.cssText='left:'+left+'px;top:'+(y-1)+'px;width:9px;background:'+col
legend.appendChild(l)
const t=document.createElement('div')
t.className='txt'
t.style.cssText='left:'+(left+8)+'px;top:'+(y-7)+'px;font-size:11px'
t.textContent=text
legend.appendChild(t)
}
memberTemp.forEach((t,i)=>{
const row=Math.floor(i/2)
entry('P'+(i+1),palette[i%20],i%2===0?0:53,39+row*15)
})
entry('Control','#0000ff',0,264)
entry('Ens. mean','#ffffff',53,264)
entry('1991-2020\nmean','#f03c3c',53,293)
entry('Oper','#00e000',0,305)
</script>
</body>
</html>
